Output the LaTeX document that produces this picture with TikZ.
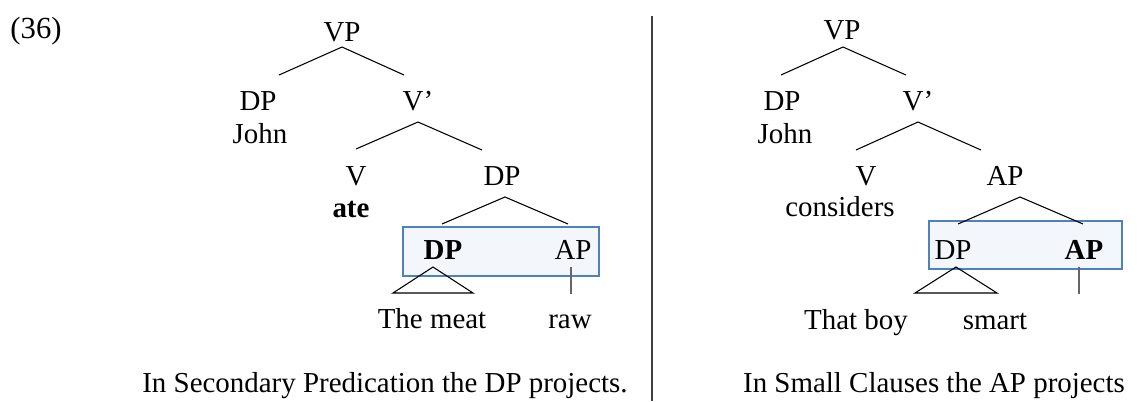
\documentclass[tikz,border=0pt]{standalone}
\usepackage{fontspec}
\setmainfont{Liberation Serif}
\definecolor{boxline}{RGB}{79,129,189}
\definecolor{boxfill}{RGB}{243,246,250}
\begin{document}
\begin{tikzpicture}[x=0.75pt,y=-0.75pt,
  lbl/.style={inner sep=0pt,anchor=base,font=\fontsize{21.7}{26}\selectfont},
  edge/.style={draw=black,line width=0.8pt},
  gedge/.style={draw=black!60,line width=1pt},
  sbox/.style={draw=boxline,fill=boxfill,line width=1.2pt}]
\useasboundingbox (0,0) rectangle (1147,401);
\node[lbl,font=\fontsize{23}{27}\selectfont] (num) at (36,38) {(36)};
% left tree
\node[lbl] (lvp) at (342,41) {VP};
\node[lbl] (ldp1) at (258,110) {DP};
\node[lbl] (ljohn) at (260,143) {John};
\node[lbl] (lvbar) at (418,110) {V’};
\node[lbl] (lv) at (356,185) {V};
\node[lbl] (late) at (351,217) {\textbf{ate}};
\node[lbl] (ldp2) at (502,185) {DP};
\fill[sbox] (403,227) rectangle (599,276);
\node[lbl] (ldp3) at (443,259) {\textbf{DP}};
\node[lbl] (lap) at (573,259) {AP};
\node[lbl] (lmeat) at (432,328) {The meat};
\node[lbl] (lraw) at (570,328) {raw};
\coordinate (a1) at (342,47); \coordinate (a1l) at (279,75); \coordinate (a1r) at (404,75);
\draw[edge] (a1l) -- (a1) -- (a1r);
\coordinate (a2) at (418,122); \coordinate (a2l) at (356,149); \coordinate (a2r) at (482,150);
\draw[edge] (a2l) -- (a2) -- (a2r);
\coordinate (a3) at (505,197); \coordinate (a3l) at (442,224); \coordinate (a3r) at (568,224);
\draw[edge] (a3l) -- (a3) -- (a3r);
\coordinate (t1) at (433,267); \coordinate (t1l) at (393,293); \coordinate (t1r) at (473,293);
\draw[edge] (t1) -- (t1l) -- (t1r) -- cycle;
\coordinate (g1) at (571,267); \coordinate (g1b) at (571,294);
\draw[gedge] (g1) -- (g1b);
\node[lbl] (lcap) at (385,392) {In Secondary Predication the DP projects.};
% divider
\coordinate (d1) at (652,16); \coordinate (d2) at (652,401);
\draw[black!75,line width=0.8pt] (d1) -- (d2);
% right tree
\node[lbl] (rvp) at (842,39) {VP};
\node[lbl] (rdp1) at (782,110) {DP};
\node[lbl] (rjohn) at (785,143) {John};
\node[lbl] (rvbar) at (918,110) {V’};
\node[lbl] (rv) at (866,185) {V};
\node[lbl] (rcons) at (840,216) {considers};
\node[lbl] (rap) at (1005,185) {AP};
\fill[sbox] (929,221) rectangle (1122,269);
\node[lbl] (rdp2) at (953,259) {DP};
\node[lbl] (rap2) at (1084,259) {\textbf{AP}};
\node[lbl] (rboy) at (856,329) {That boy};
\node[lbl] (rsmart) at (995,329) {smart};
\coordinate (b1) at (843,47); \coordinate (b1l) at (781,75); \coordinate (b1r) at (906,75);
\draw[edge] (b1l) -- (b1) -- (b1r);
\coordinate (b2) at (918,122); \coordinate (b2l) at (856,150); \coordinate (b2r) at (981,150);
\draw[edge] (b2l) -- (b2) -- (b2r);
\coordinate (b3) at (1020,197); \coordinate (b3l) at (958,224); \coordinate (b3r) at (1083,224);
\draw[edge] (b3l) -- (b3) -- (b3r);
\coordinate (t2) at (956,267); \coordinate (t2l) at (915,293); \coordinate (t2r) at (997,293);
\draw[edge] (t2) -- (t2l) -- (t2r) -- cycle;
\coordinate (g2) at (1079,267); \coordinate (g2b) at (1079,294);
\draw[gedge] (g2) -- (g2b);
\node[lbl] (rcap) at (934,392) {In Small Clauses the AP projects};
\end{tikzpicture}
\end{document}
